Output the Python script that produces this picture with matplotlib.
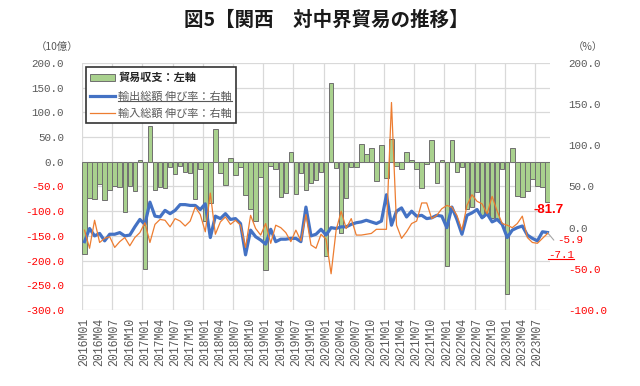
import numpy as np
import matplotlib.pyplot as plt
from matplotlib.lines import Line2D
from matplotlib.patches import Patch

plt.rcParams['font.family'] = ['Noto Sans CJK JP', 'DejaVu Sans']

# 2016M01 .. 2023M09
months = [f'{y}M{m:02d}' for y in range(2016, 2024) for m in range(1, 13)][:93]

# trade balance (10 bn yen, left axis)
balance = [-187, -73, -75, -45, -77, -58, -48, -51, -102, -50, -59, 3,
           -218, 72, -57, -52, -53, -11, -24, -8, -20, -22, -75, -15,
           -119, -83, 66, -23, -46, 8, -26, -10, -67, -95, -120, -31,
           -219, -8, -15, -72, -63, 20, -65, -22, -57, -42, -36, -20,
           -191, 160, -13, -144, -73, -10, -11, 37, 15, 27, -38, 33,
           -32, 47, -9, -15, 20, 4, -14, -53, -5, 45, -42, 4,
           -210, 44, -21, -11, -95, -92, -62, -112, -105, -113, -115, -15,
           -268, 28, -70, -71, -60, -35, -50, -52, -81.7]

# export growth y/y % (right axis)
exports = [-17, -1, -10, -7, -16, -8, -8, -6, -10, -9, 1, 10,
           4, 31, 14, 13, 21, 17, 21, 28, 28, 27, 27, 22,
           29, -12, 14, 11, 17, 10, 11, 5, -33, -3, -11, -15,
           -20, -2, -17, -14, -14, -13, -13, -17, 25, -10, -8, -2,
           -9, 0, -1, 1, 1, 4, 6, 7, 9, 7, 5, 8,
           40, 3, 20, 24, 13, 20, 14, 15, 11, 12, 15, 14,
           0, 25, 10, -8, 15, 18, 22, 12, 17, 7, 10, 4,
           -12, -3, 0, 2, -9, -13, -16, -5, -5.9]

# import growth y/y % (right axis)
imports = [-3, -25, 9, -18, -13, -11, -24, -17, -12, -22, -12, -6,
           6, -18, 4, 10, 9, 1, 11, 8, 2, 8, 25, 16,
           -5, 42, -8, 7, 13, 4, 9, 3, -24, 15, -1, -9,
           5, -19, 3, 0, -6, -17, -3, -16, 16, -21, -25, -8,
           -14, -56, -3, 20, -1, 11, -9, -9, -8, -7, -2, -2,
           -2, 152, 3, -13, -5, 5, 8, 30, 30, 11, 15, 23,
           27, 25, 15, -3, 27, 40, 32, 29, 17, 38, 20, 5,
           3, 0, 5, 14, -12, -18, -19, -13, -7.1]

labels = ['貿易収支：左軸', '輸出総額 伸び率：右軸', '輸入総額 伸び率：右軸']

GRID = '#D9D9D9'
GREY = '#595959'
RED = '#FF0000'
MONO = 'Liberation Mono'

fig = plt.figure(figsize=(6.4, 3.86), dpi=100)
ax = fig.add_axes([82 / 640, 1 - 310 / 386, 468 / 640, 247 / 386])
ax2 = ax.twinx()

x = np.arange(len(months))
ax.bar(x, balance, width=0.9, color='#A9D18E', edgecolor='#6F6F6F',
       linewidth=0.7, zorder=2)
ax.set_xlim(-0.5, len(months) - 0.5)
ax.set_ylim(-300, 200)
lticks = np.arange(-300, 201, 50)
ax.set_yticks(lticks)
ax.yaxis.grid(True, color=GRID, lw=0.9)
ax.set_axisbelow(True)
for k in range(0, len(months), 6):
    ax.axvline(k - 0.5, color=GRID, lw=0.9, zorder=0)

for a in (ax, ax2):
    for sp in a.spines.values():
        sp.set_visible(False)

ax.set_yticklabels([f'{v:.1f}' for v in lticks], fontfamily=MONO, fontsize=7.8)
for t, v in zip(ax.get_yticklabels(), lticks):
    t.set_color(RED if v < 0 else GREY)
ax.tick_params(axis='y', length=0, pad=13)

ax.set_xticks(x[::3])
ax.set_xticklabels(months[::3], rotation=90, fontfamily=MONO, fontsize=8.3,
                   color=GREY)
ax.tick_params(axis='x', length=0, pad=6)

ax2.plot(x, exports, color='#4472C4', lw=2.3, zorder=3)
ax2.plot(x, imports, color='#ED7D31', lw=0.9, zorder=4)
ax2.set_ylim(-100, 200)
rticks = np.arange(-100, 201, 50)
ax2.set_yticks(rticks)
ax2.set_yticklabels([f'{v:.1f}' for v in rticks], fontfamily=MONO, fontsize=7.8)
for t, v in zip(ax2.get_yticklabels(), rticks):
    t.set_color(RED if v < 0 else GREY)
ax2.tick_params(axis='y', length=0, pad=13)

handles = [Patch(facecolor='#A9D18E', edgecolor='#6F6F6F', linewidth=0.7),
           Line2D([], [], color='#4472C4', lw=2.3),
           Line2D([], [], color='#ED7D31', lw=0.9)]
leg = ax2.legend(handles, labels, loc='upper left', bbox_to_anchor=(0.0085, 0.984),
                 fontsize=8, frameon=True, fancybox=False, edgecolor='#333333',
                 framealpha=1, handlelength=2.2, handletextpad=0.3,
                 borderpad=0.4, labelspacing=0.6, borderaxespad=0)
leg.get_frame().set_linewidth(1.2)
leg.get_texts()[0].set_fontweight('bold')
leg.get_texts()[0].set_color('#262626')
for t in leg.get_texts()[1:]:
    t.set_color(GREY)

fig.text(0.51, 1 - 20 / 386, '図5【関西　対中界貿易の推移】', ha='center',
         va='center', fontsize=14, fontweight='bold', color='#1a1a1a')
fig.text(57 / 640, 1 - 47 / 386, '（10億）', ha='center', va='center',
         fontsize=7.5, color=GREY)
fig.text(588 / 640, 1 - 47 / 386, '（%）', ha='center', va='center',
         fontsize=7.5, color=GREY)

last = len(months) - 1
ax.annotate(f'{balance[-1]:.1f}', xy=(last, balance[-1]), xytext=(1, -2),
            textcoords='offset pixels', ha='center', va='top', color=RED,
            fontsize=9.5, fontweight='bold', fontfamily='Liberation Sans')
ax2.annotate(f'{exports[-1]:.1f}', xy=(last, exports[-1]), xytext=(10, -12),
             textcoords='offset pixels', ha='left', va='bottom', color=RED,
             fontsize=7.8, fontfamily=MONO,
             arrowprops=dict(arrowstyle='-', color='#A6A6A6', lw=0.8,
                             shrinkA=1, shrinkB=0, relpos=(0, 0)))
t71 = ax2.annotate(f'{imports[-1]:.1f}', xy=(last, imports[-1]), xytext=(14, -21),
                   textcoords='offset pixels', ha='center', va='center',
                   color=RED, fontsize=7.8, fontfamily=MONO)

# underlines drawn in display pixels
fig.canvas.draw()
for txt, col in ((t71, RED), (leg.get_texts()[1], GREY)):
    bb = txt.get_window_extent()
    fig.add_artist(Line2D([bb.x0, bb.x1], [bb.y0 + 0.5, bb.y0 + 0.5],
                          transform=None, color=col, lw=0.8))

fig.savefig('out.png', dpi=100)
